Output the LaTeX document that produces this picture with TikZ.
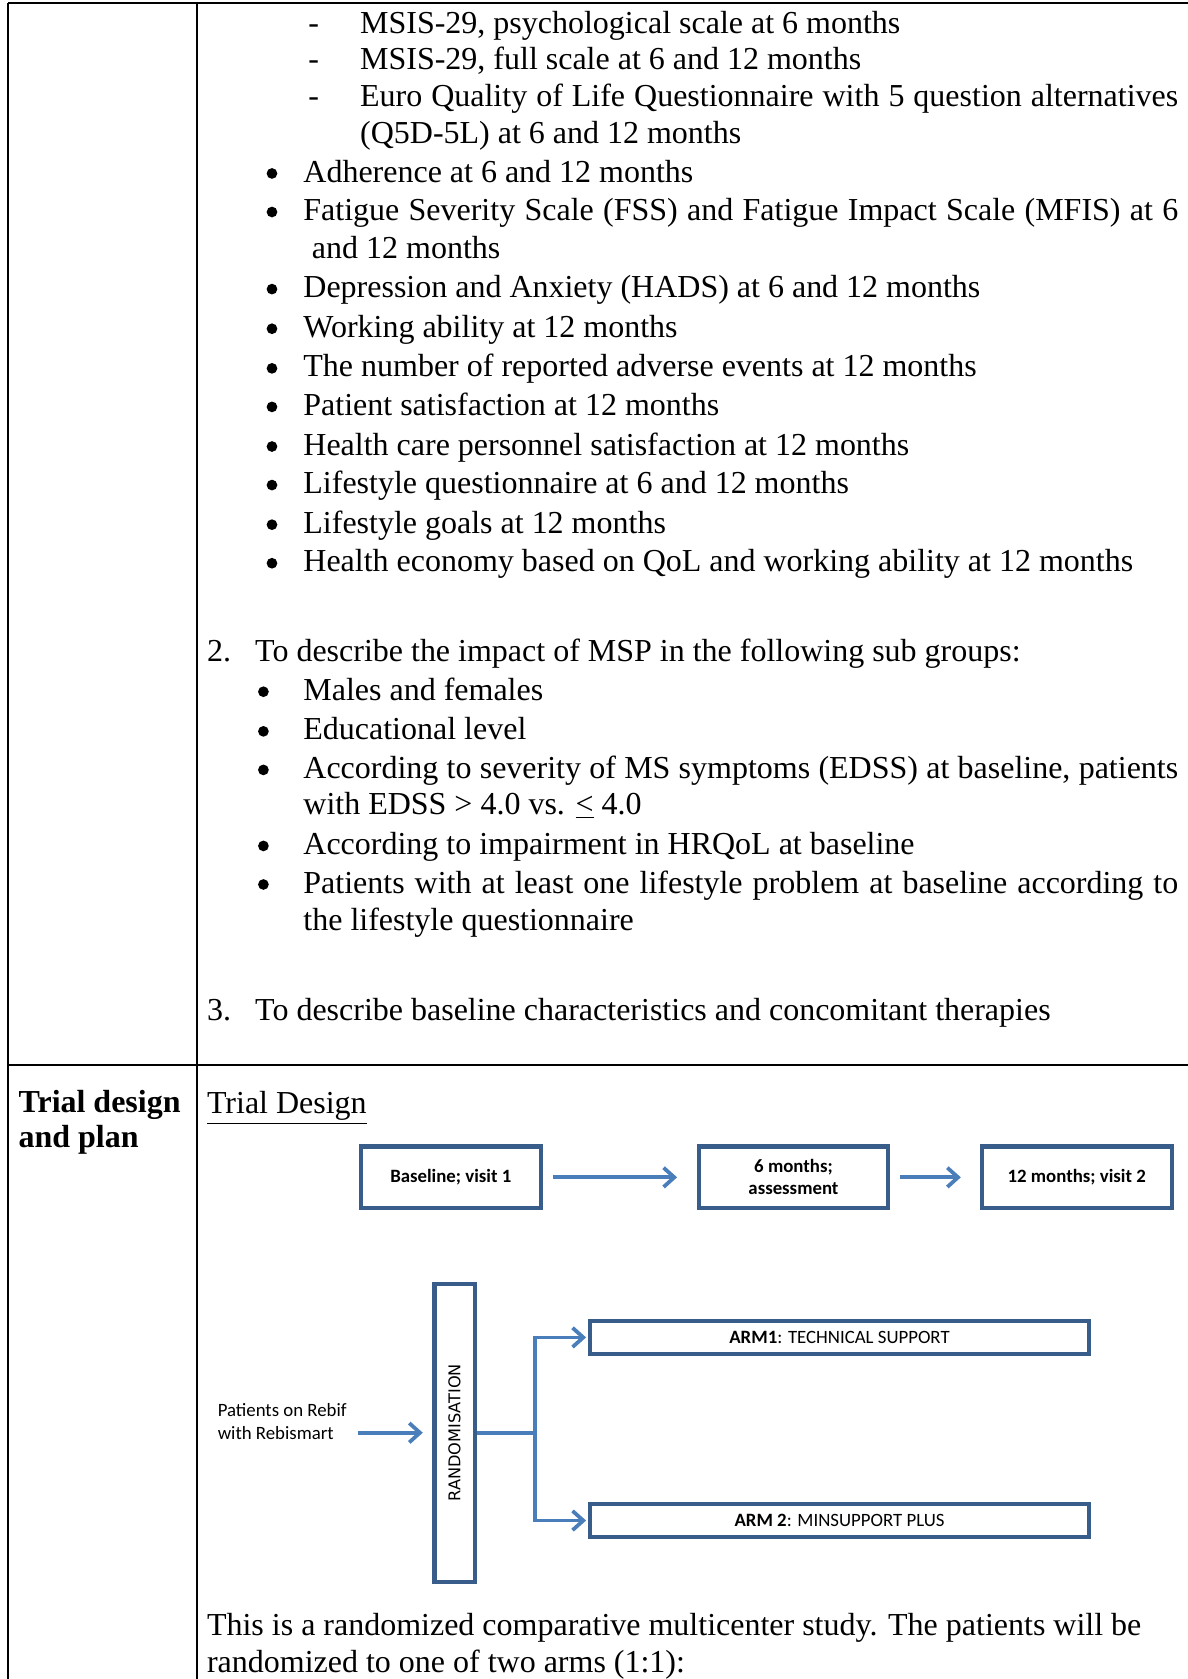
\documentclass[tikz,border=0pt]{standalone}
\usepackage{fontspec}
\setmainfont{Liberation Serif}
\newfontfamily\calfont{Carlito}
\newfontfamily\randfont{DejaVu Sans}
\usepackage{xcolor}
\usepackage{tikz}
\usetikzlibrary{arrows.meta}
\definecolor{boxcolor}{HTML}{385D8A}
\definecolor{flowcolor}{HTML}{4A7EBB}
\tikzset{
  body/.style={anchor=base west, inner sep=0pt, font=\fontsize{17pt}{20pt}\selectfont},
  dashitem/.style={anchor=base, inner sep=0pt, font=\fontsize{17pt}{20pt}\selectfont},
  dot/.style={circle, fill=black, inner sep=0pt, minimum size=0.2cm, yshift=0.16cm},
  rule/.style={line width=1.1pt, black},
  stepbox/.style={draw=boxcolor, line width=2.2pt, rectangle, fill=white, minimum height=1.15cm, inner sep=0pt, align=center, font=\calfont\bfseries\fontsize{10pt}{11.6pt}\selectfont},
  armbox/.style={draw=boxcolor, line width=2.2pt, rectangle, fill=white, minimum width=9.33cm, minimum height=0.61cm, inner sep=0pt, font=\calfont\fontsize{10pt}{12pt}\selectfont},
  flowline/.style={draw=flowcolor, line width=2pt},
  flow/.style={flowline, -{Straight Barb[length=0.2cm, width=0.36cm]}},
}

\begin{document}
\begin{tikzpicture}%
\useasboundingbox (0, 0) rectangle (22.18, -31.36);%
\draw[rule] (0.156, -0.06) -- (22.18, -0.06);%
\draw[rule] (0.156, -0.06) -- (0.156, -31.36);%
\draw[rule] (3.68, -0.06) -- (3.68, -31.36);%
\draw[rule] (0.156, -19.9) -- (22.18, -19.9);%
\node[dashitem] (d1) at (5.86, -0.62) {-};%
\node[body] (msispsy) at (6.72, -0.62) {MSIS-29, psychological scale at 6 months};%
\node[dashitem] (d2) at (5.86, -1.30) {-};%
\node[body] (msisfull) at (6.72, -1.30) {MSIS-29, full scale at 6 and 12 months};%
\node[dashitem] (d3) at (5.86, -1.98) {-};%
\node[body] (euro) at (6.72, -1.98) {\makebox[15.28cm][s]{Euro Quality of Life Questionnaire with 5 question alternatives}};%
\node[body] (euro2) at (6.72, -2.68) {(Q5D-5L) at 6 and 12 months};%
\node[dot] (b1) at (5.08, -3.40) {};%
\node[body] (adher) at (5.66, -3.40) {Adherence at 6 and 12 months};%
\node[dot] (b2) at (5.08, -4.12) {};%
\node[body] (fatigue) at (5.66, -4.12) {\makebox[16.34cm][s]{Fatigue Severity Scale (FSS) and Fatigue Impact Scale (MFIS) at 6}};%
\node[body] (fatigue2) at (5.82, -4.82) {and 12 months};%
\node[dot] (b3) at (5.08, -5.56) {};%
\node[body] (hads) at (5.66, -5.56) {Depression and Anxiety (HADS) at 6 and 12 months};%
\node[dot] (b4) at (5.08, -6.30) {};%
\node[body] (work) at (5.66, -6.30) {Working ability at 12 months};%
\node[dot] (b5) at (5.08, -7.04) {};%
\node[body] (adverse) at (5.66, -7.04) {The number of reported adverse events at 12 months};%
\node[dot] (b6) at (5.08, -7.76) {};%
\node[body] (patsat) at (5.66, -7.76) {Patient satisfaction at 12 months};%
\node[dot] (b7) at (5.08, -8.50) {};%
\node[body] (staffsat) at (5.66, -8.50) {Health care personnel satisfaction at 12 months};%
\node[dot] (b8) at (5.08, -9.22) {};%
\node[body] (lifeq) at (5.66, -9.22) {Lifestyle questionnaire at 6 and 12 months};%
\node[dot] (b9) at (5.08, -9.96) {};%
\node[body] (lifeg) at (5.66, -9.96) {Lifestyle goals at 12 months};%
\node[dot] (b10) at (5.08, -10.68) {};%
\node[body] (econ) at (5.66, -10.68) {Health economy based on QoL and working ability at 12 months};%
\node[body] (n2) at (3.86, -12.36) {2.};%
\node[body] (aim2) at (4.76, -12.36) {To describe the impact of MSP in the following sub groups:};%
\node[dot] (c1) at (4.92, -13.08) {};%
\node[body] (sex) at (5.66, -13.08) {Males and females};%
\node[dot] (c2) at (4.92, -13.82) {};%
\node[body] (edu) at (5.66, -13.82) {Educational level};%
\node[dot] (c3) at (4.92, -14.54) {};%
\node[body] (edss) at (5.66, -14.54) {\makebox[16.34cm][s]{According to severity of MS symptoms (EDSS) at baseline, patients}};%
\node[body] (edss2) at (5.66, -15.22) {with EDSS > 4.0 vs. \underline{<} 4.0};%
\node[dot] (c4) at (4.92, -15.96) {};%
\node[body] (hrqol) at (5.66, -15.96) {According to impairment in HRQoL at baseline};%
\node[dot] (c5) at (4.92, -16.68) {};%
\node[body] (lifeprob) at (5.66, -16.68) {\makebox[16.34cm][s]{Patients with at least one lifestyle problem at baseline according to}};%
\node[body] (lifeprob2) at (5.66, -17.38) {the lifestyle questionnaire};%
\node[body] (n3) at (3.86, -19.06) {3.};%
\node[body] (aim3) at (4.76, -19.06) {To describe baseline characteristics and concomitant therapies};%
\node[body, font=\fontsize{17pt}{20pt}\selectfont\bfseries] (rowhead) at (0.34, -20.78) {Trial design};%
\node[body, font=\fontsize{17pt}{20pt}\selectfont\bfseries] (rowhead2) at (0.34, -21.44) {and plan};%
\node[body] (design) at (3.86, -20.80) {\underline{Trial Design}};%
\node[stepbox, minimum width=3.37cm] (base) at (8.42, -21.99) {Baseline; visit 1};%
\node[stepbox, minimum width=3.53cm] (six) at (14.82, -21.99) {6 months;\\assessment};%
\node[stepbox, minimum width=3.55cm] (twelve) at (20.11, -21.99) {12 months; visit 2};%
\draw[flow, shorten <=0.18cm, shorten >=0.37cm] (base.east) -- (six.west);%
\draw[flow, shorten <=0.19cm, shorten >=0.35cm] (six.east) -- (twelve.west);%
\node[draw=boxcolor, line width=2.2pt, fill=white, minimum width=0.75cm, minimum height=5.57cm, inner sep=0pt, font=\randfont\fontsize{8.6pt}{10pt}\selectfont] (rand) at (8.49, -26.76) {\rotatebox{90}{RANDOMISATION}};%
\node[anchor=west, inner sep=0pt, align=left, font=\calfont\fontsize{10pt}{11.9pt}\selectfont] (pat) at (4.06, -26.55) {Patients on Rebif\\with Rebismart};%
\draw[flow, shorten <=0.2cm, shorten >=0.18cm] (pat.east |- rand.west) -- (rand.west);%
\node[armbox] (arm1) at (15.68, -24.98) {\textbf{ARM1}: TECHNICAL SUPPORT};%
\node[armbox] (arm2) at (15.68, -28.40) {\textbf{ARM 2}: MINSUPPORT PLUS};%
\coordinate (fork) at ([xshift=1.095cm]rand.east);%
\draw[flowline] (rand.east) -- (fork);%
\draw[flow, shorten >=0.03cm] (fork) |- (arm1.west);%
\draw[flow, shorten >=0.03cm] (fork) |- (arm2.west);%
\node[body] (study) at (3.86, -30.54) {This is a randomized comparative multicenter study. The patients will be};%
\node[body] (study2) at (3.86, -31.24) {randomized to one of two arms (1:1):};%
\end{tikzpicture}
\end{document}
